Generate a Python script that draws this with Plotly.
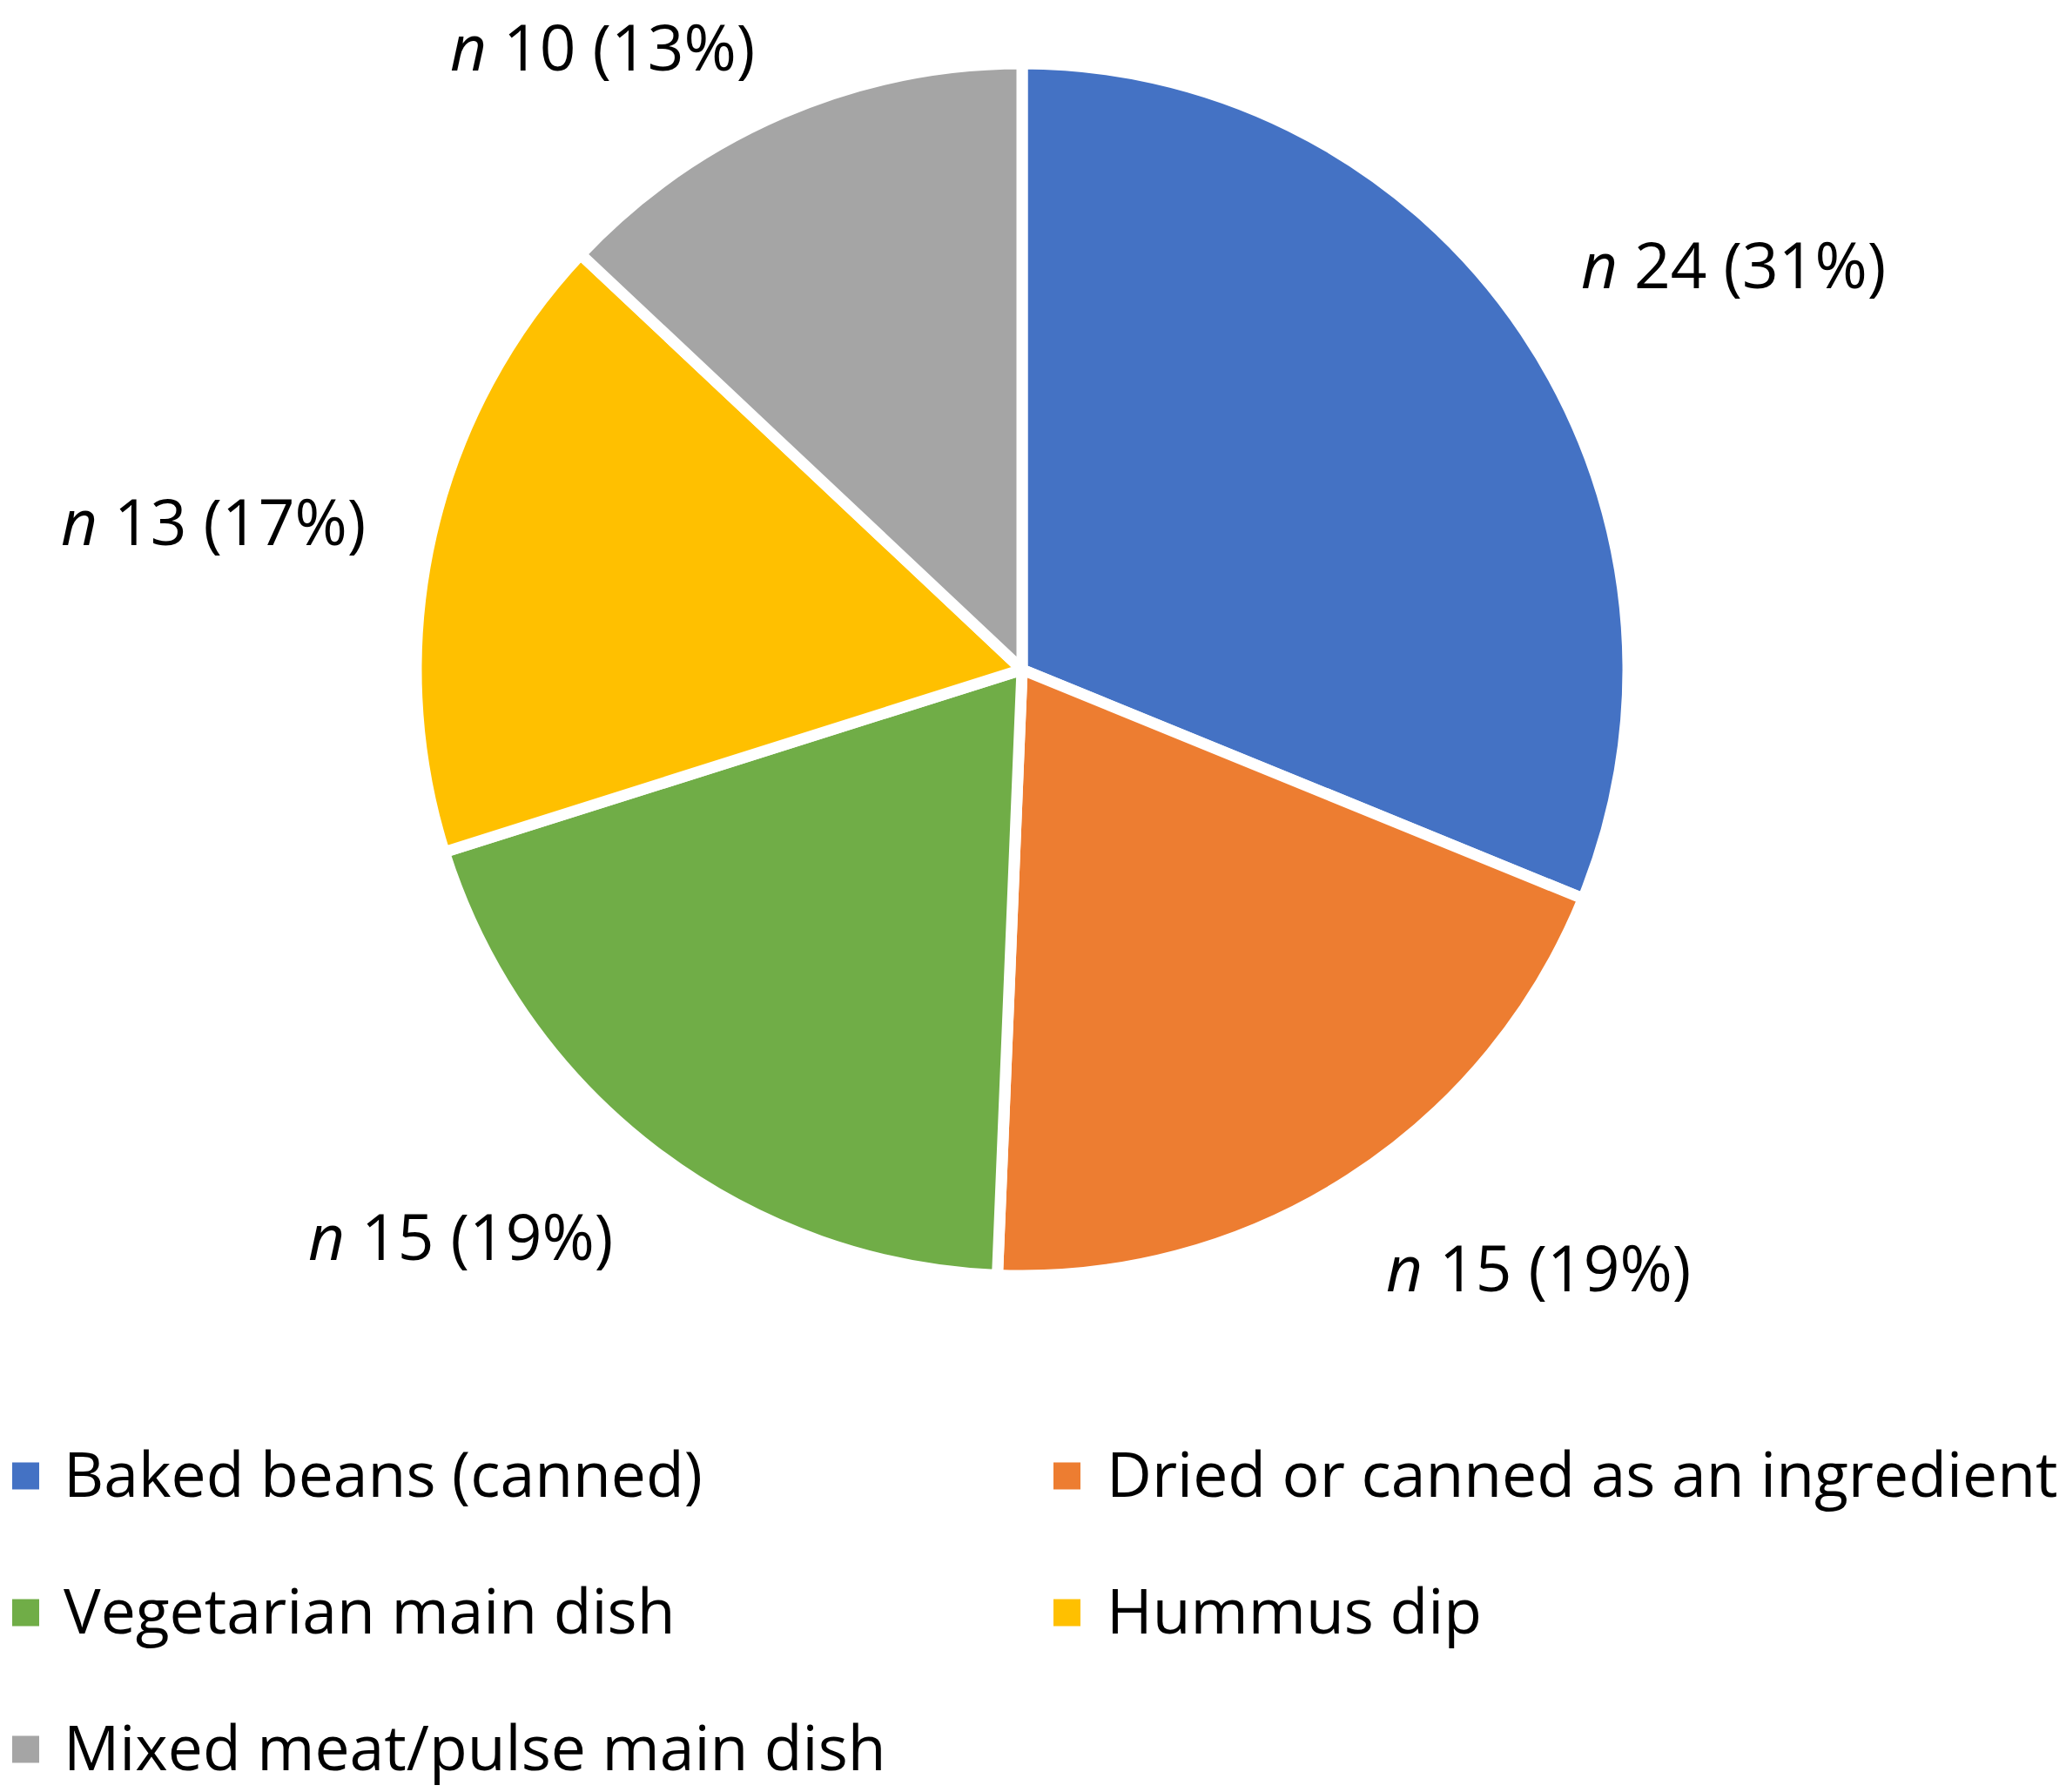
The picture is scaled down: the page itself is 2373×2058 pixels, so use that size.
import math
import plotly.graph_objects as go

# ---- data ----
categories = [
    "Baked beans (canned)",
    "Dried or canned as an ingredient",
    "Vegetarian main dish",
    "Hummus dip",
    "Mixed meat/pulse main dish",
]
counts = [24, 15, 15, 13, 10]
colors = ["#4472C4", "#ED7D31", "#70AD47", "#FFC000", "#A5A5A5"]

# ---- layout constants (pixels) ----
W, H = 2373, 2058
CX, CY, R = 1174, 769, 696
GAP = 76
HV = 36
LABEL_HALF_W = 176
FONT = "Open Sans, Lato, Liberation Sans, sans-serif"
LABEL_SIZE = 73
LEG_SIZE = 71.5


def px(x):
    return x / W


def py(y):
    return 1 - y / H


fig = go.Figure(
    go.Pie(
        labels=categories,
        values=counts,
        sort=False,
        direction="clockwise",
        rotation=0,
        marker=dict(colors=colors, line=dict(color="white", width=13)),
        textinfo="none",
        showlegend=False,
        hoverinfo="label+value+percent",
        domain=dict(x=[px(CX - R), px(CX + R)], y=[py(CY + R), py(CY - R)]),
    )
)

total = sum(counts)
annotations = []
shapes = []
cum = 0
for name, v in zip(categories, counts):
    mid = (cum + v / 2) / total * 2 * math.pi
    cum += v
    s, c = math.sin(mid), math.cos(mid)
    x = CX + (R + GAP) * s
    y = CY - (R + GAP) * c
    if s > 0.3:
        x += LABEL_HALF_W
    elif s < -0.3:
        x -= LABEL_HALF_W
    if c > 0.3:
        y -= HV
    elif c < -0.3:
        y += HV
    # keep the label box inside the figure
    y = max(y, LABEL_SIZE * 0.72)
    pct = round(100 * v / total)
    annotations.append(
        dict(
            x=px(x), y=py(y), xref="paper", yref="paper",
            text=f"<i>n</i> {v} ({pct}%)", showarrow=False,
            xanchor="center", yanchor="middle",
            font=dict(family=FONT, size=LABEL_SIZE, color="black"),
        )
    )

# ---- legend (two columns) ----
col_sq = [14, 1210]
col_tx = [71, 1269]
row_y = [1693, 1850, 2007]
SQ = 31
for i, (name, col) in enumerate(zip(categories, colors)):
    r, cidx = divmod(i, 2)
    yc = row_y[r]
    shapes.append(
        dict(
            type="rect", xref="paper", yref="paper",
            x0=px(col_sq[cidx]), x1=px(col_sq[cidx] + SQ),
            y0=py(yc + 2 + SQ / 2), y1=py(yc + 2 - SQ / 2),
            fillcolor=col, line=dict(width=0),
        )
    )
    annotations.append(
        dict(
            x=px(col_tx[cidx]), y=py(yc - 2), xref="paper", yref="paper",
            text=name, showarrow=False, xanchor="left", yanchor="middle",
            font=dict(family=FONT, size=LEG_SIZE, color="black"),
        )
    )

fig.update_layout(
    width=W, height=H,
    margin=dict(l=0, r=0, t=0, b=0),
    paper_bgcolor="white", plot_bgcolor="white",
    annotations=annotations, shapes=shapes,
    showlegend=False,
)

fig.write_html(
    "out.html",
    config={"displayModeBar": False},
    post_script="document.body.style.margin='0';document.body.style.overflow='hidden';",
)
